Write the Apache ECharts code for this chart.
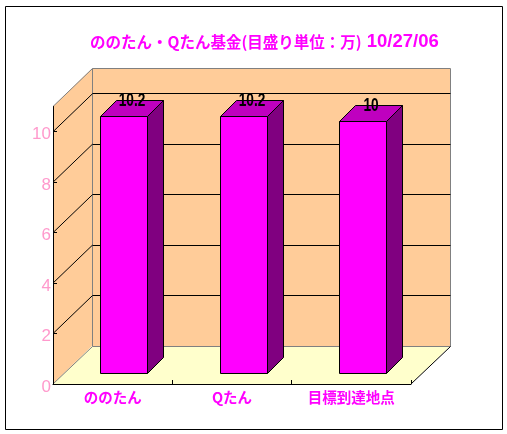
<!DOCTYPE html>
<html><head><meta charset="utf-8">
<style>html,body{margin:0;padding:0;background:#fff}#c{width:507px;height:434px}</style>
<script src="https://cdn.jsdelivr.net/npm/echarts@6/dist/echarts.min.js"></script>
</head><body><div id="c"></div>
<script>
const titleMain = 'ののたん・Qたん基金(目盛り単位：万)';
const titleDate = '10/27/06';
const categories = ['ののたん', 'Qたん', '目標到達地点'];
const values = [10.2, 10.2, 10];
const yTicks = [0, 2, 4, 6, 8, 10];
const yMax = 11;
const DX = 39, DY = 38, BDX = 16, BDY = 16, OX = 11, OY = 10.5, BW = 47;
const snap = v => Math.floor(v) + 0.5;
const cjk = '"Noto Sans CJK JP","Noto Sans CJK SC",sans-serif';
const latin = '"Liberation Sans",sans-serif';
const chart = echarts.init(document.getElementById('c'), null, {renderer:'canvas'});

function wallsItem(params, api) {
  const cs = params.coordSys;
  const l = cs.x, r = cs.x + cs.width, t = cs.y, b = cs.y + cs.height;
  const kids = [];
  kids.push({type:'polygon', shape:{points:[[l,b],[l,t],[l+DX,t-DY],[l+DX,b-DY]]}, style:{fill:'#ffcc99', stroke:null}});
  kids.push({type:'polygon', shape:{points:[[l+DX,t-DY],[r+DX,t-DY],[r+DX,b-DY],[l+DX,b-DY]]}, style:{fill:'#ffcc99', stroke:null}});
  kids.push({type:'polygon', shape:{points:[[l,b],[l+DX,b-DY],[r+DX,b-DY],[r,b]]}, style:{fill:'#ffffcc', stroke:null}});
  const gray = '#808080';
  const seg = (x1,y1,x2,y2,c) => kids.push({type:'line', shape:{x1,y1,x2,y2}, style:{stroke:c, lineWidth:1, fill:null}});
  const bx = snap(l+DX), rx = snap(r+DX), ty = snap(t-DY), by = snap(b-DY);
  seg(bx,ty,rx,ty,gray); seg(rx,ty,rx,by,gray); seg(bx,ty,bx,by,gray); seg(bx,by,rx,by,gray);
  seg(l,t,bx,ty,gray); seg(l,b,bx,by,gray);
  seg(r,b,rx,by,'#000');
  yTicks.slice(1).forEach(v => {
    const y = api.coord([0, v])[1];
    seg(l, y, bx, y-DY, '#000');
    seg(bx, snap(y-DY), rx, snap(y-DY), '#000');
  });
  return {type:'group', children:kids};
}

function barItem(params, api) {
  const i = api.value(0), v = api.value(1);
  const top = api.coord([i, v]), base = api.coord([i, 0]);
  const x0 = Math.round(top[0] + OX - BW/2) + 0.5, x1 = x0 + BW;
  const yt = snap(top[1] - OY), yb = snap(base[1] - OY);
  const s = {stroke:'#000', lineWidth:1};
  return {type:'group', children:[
    {type:'polygon', shape:{points:[[x1,yt],[x1+BDX,yt-BDY],[x1+BDX,yb-BDY],[x1,yb]]}, style:{...s, fill:'#800080'}},
    {type:'polygon', shape:{points:[[x0,yt],[x0+BDX,yt-BDY],[x1+BDX,yt-BDY],[x1,yt]]}, style:{...s, fill:'#bf00bf'}},
    {type:'rect', shape:{x:x0,y:yt,width:BW,height:yb-yt}, style:{...s, fill:'#ff00ff'}},
    {type:'text', x:x0+BW/2+8, y:yt-16, scaleX:0.72, style:{text:String(v), fill:'#000', align:'center', verticalAlign:'middle',
      font:'bold 19px ' + latin}}
  ]};
}

chart.setOption({
  animation:false,
  backgroundColor:'#fff',
  title:{text:'{a|' + titleMain + '}{b| ' + titleDate + '}', left:85, top:25,
    textStyle:{rich:{
      a:{color:'#ff00ff', fontFamily:cjk, fontWeight:'bold', fontSize:15.5, lineHeight:24},
      b:{color:'#ff00ff', fontFamily:latin, fontWeight:'bold', fontSize:18.5, lineHeight:24}
    }}},
  graphic:[{type:'rect', z:-1, silent:true, shape:{x:5.5,y:6.5,width:497,height:423}, style:{fill:'#fff', stroke:'#000', lineWidth:1}}],
  grid:{left:53, top:106.5, width:358, height:277.5, containLabel:false},
  xAxis:{type:'category', data:categories, z:5,
    axisLine:{show:true, lineStyle:{color:'#000', width:1}},
    axisTick:{show:true, inside:true, length:4, alignWithLabel:false, lineStyle:{color:'#000'}},
    splitLine:{show:false},
    axisLabel:{color:'#ff00ff', fontFamily:cjk, fontWeight:'bold', fontSize:14.5, margin:6, interval:0}},
  yAxis:{type:'value', min:0, max:yMax, interval:2, z:5,
    axisLine:{show:true, lineStyle:{color:'#000', width:1}},
    axisTick:{show:true, inside:true, length:4, lineStyle:{color:'#000'}},
    splitLine:{show:false},
    axisLabel:{color:'#ff99cc', fontFamily:latin, fontSize:17, margin:2, verticalAlign:'top', lineHeight:6,
      showMaxLabel:false, formatter:v => yTicks.includes(v) ? String(v) : ''}},
  series:[
    {type:'custom', name:'walls', coordinateSystem:'cartesian2d', clip:false, silent:true, z:1, data:[[0,0]], renderItem:wallsItem, encode:{x:0,y:1}},
    {type:'custom', name:'基金', coordinateSystem:'cartesian2d', clip:false, z:2, data:values.map((v,i)=>[i,v]), renderItem:barItem, encode:{x:0,y:1}}
  ]
});
</script></body></html>
